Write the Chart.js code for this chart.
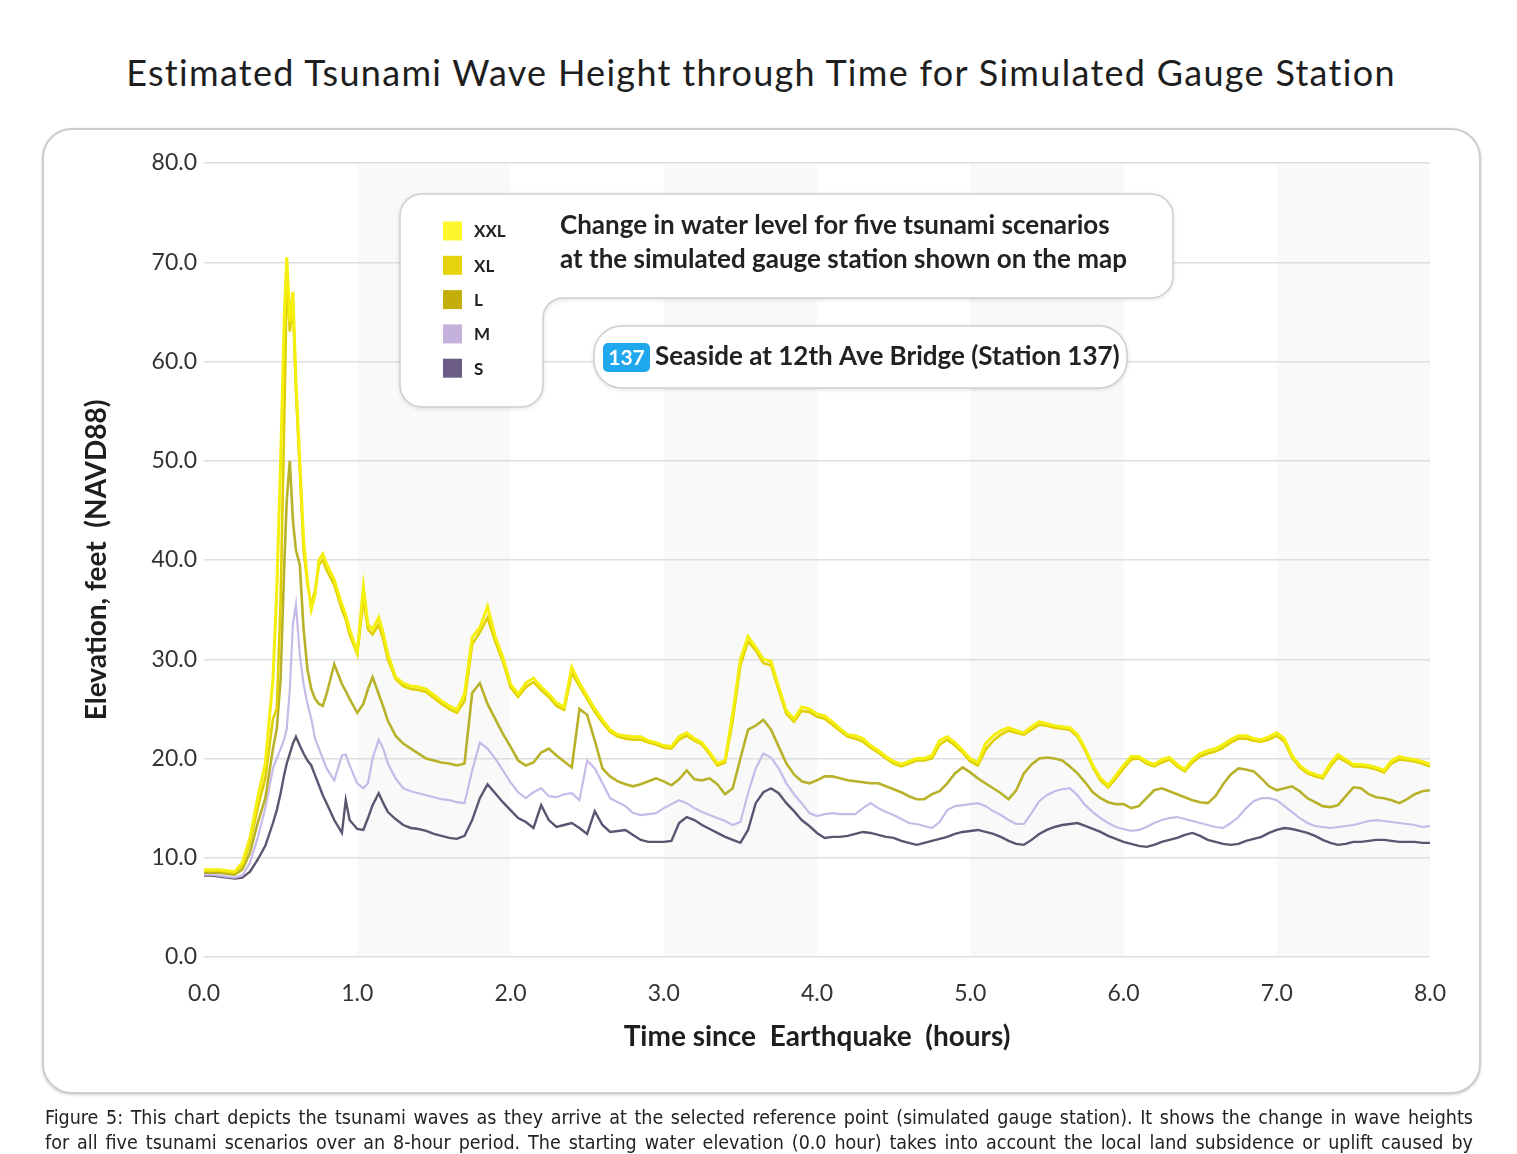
<!DOCTYPE html>
<html><head><meta charset="utf-8">
<script src="https://cdn.jsdelivr.net/npm/chart.js@4.4.1/dist/chart.umd.min.js"></script>
<style>
html,body{margin:0;padding:0;background:#fff;}
body{width:1517px;height:1154px;position:relative;overflow:hidden;}
#title{position:absolute;left:0;top:50px;width:1522px;text-align:center;font-family:Lato,"Open Sans",sans-serif;font-size:36px;letter-spacing:1.3px;color:#1e1e1e;white-space:nowrap;}
#box{position:absolute;left:42px;top:128px;width:1435px;height:962px;border:2px solid #cdcdcd;border-radius:30px;box-shadow:0 1px 3px rgba(0,0,0,0.18);background:#fff;}
#wrap{position:absolute;left:0;top:0;width:1517px;height:1154px;}
#caption{position:absolute;left:45px;top:1105px;width:1428px;font-family:"Liberation Sans Narrow","DejaVu Sans Condensed",sans-serif;font-size:19.5px;color:#222;line-height:25px;}
#caption div{text-align:justify;text-align-last:justify;}
</style></head>
<body>
<div id="title">Estimated Tsunami Wave Height through Time for Simulated Gauge Station</div>
<div id="box"></div>
<div id="wrap"><canvas id="c"></canvas></div>
<div id="caption">
<div>Figure 5: This chart depicts the tsunami waves as they arrive at the selected reference point (simulated gauge station). It shows the change in wave heights</div>
<div>for all five tsunami scenarios over an 8-hour period. The starting water elevation (0.0 hour) takes into account the local land subsidence or uplift caused by</div>
</div>
<script>
// time since earthquake (hours)
const times = [0,0.05,0.1,0.15,0.2,0.25,0.3,0.35,0.4,0.45,
0.475,0.5,0.525,0.54,0.56,0.58,0.6,0.625,0.65,0.675,
0.7,0.725,0.75,0.775,0.8,0.85,0.9,0.925,0.95,1.0,
1.04,1.07,1.1,1.14,1.17,1.2,1.25,
1.3,1.35,1.4,1.45,1.5,1.55,1.6,1.65,1.7,1.75,
1.8,1.85,1.9,1.95,2.0,2.05,2.1,2.15,2.2,2.25,
2.3,2.35,2.4,2.45,2.5,2.55,2.6,2.65,2.7,2.75,
2.8,2.85,2.9,2.95,3.0,3.05,3.1,3.15,3.2,3.25,
3.3,3.35,3.4,3.45,3.5,3.55,3.6,3.65,3.7,3.75,
3.8,3.85,3.9,3.95,4.0,
4.05,4.1,4.15,4.2,4.25,4.3,4.35,4.4,4.45,4.5,
4.55,4.6,4.65,4.7,4.75,4.8,4.85,4.9,4.95,5.0,
5.05,5.1,5.15,5.2,5.25,5.3,5.35,5.4,5.45,5.5,
5.55,5.6,5.65,5.7,5.75,5.8,5.85,5.9,5.95,6.0,
6.05,6.1,6.15,6.2,6.25,6.3,6.35,6.4,6.45,6.5,
6.55,6.6,6.65,6.7,6.75,6.8,6.85,6.9,6.95,7.0,
7.05,7.1,7.15,7.2,7.25,7.3,7.35,7.4,7.45,7.5,
7.55,7.6,7.65,7.7,7.75,7.8,7.85,7.9,7.95,8.0];

// elevation, feet (NAVD88)
const xxl = [8.8,8.8,8.8,8.7,8.6,9.5,12.0,16.0,19.5,28.0,
37.0,50.0,65.0,70.5,64.0,67.0,58.0,50.0,42.0,38.0,
35.0,36.5,40.0,40.6,39.6,38.0,35.5,34.5,33.0,30.7,
37.3,33.5,33.0,34.2,32.6,30.5,28.2,
27.6,27.3,27.2,27.0,26.4,25.8,25.3,24.9,26.5,32.2,
33.2,35.3,32.3,30.2,27.5,26.5,27.6,28.1,27.2,26.5,
25.6,25.2,29.2,27.6,26.3,25.0,23.9,22.9,22.4,22.3,
22.2,22.2,21.8,21.6,21.3,21.2,22.2,22.6,22.0,21.6,
20.6,19.5,19.8,24.5,30.0,32.3,31.2,30.0,29.8,27.2,
24.8,24.0,25.2,25.0,24.5,
24.3,23.7,23.0,22.4,22.3,22.0,21.3,20.8,20.2,19.7,
19.4,19.7,20.0,20.0,20.3,21.8,22.2,21.6,20.8,20.0,
19.6,21.5,22.3,22.8,23.1,22.8,22.6,23.2,23.7,23.5,
23.3,23.2,23.1,22.4,21.0,19.3,18.0,17.3,18.3,19.3,
20.2,20.2,19.7,19.4,19.9,20.1,19.4,18.9,19.9,20.5,
20.8,21.0,21.4,21.9,22.3,22.3,22.0,21.9,22.2,22.6,
22.0,20.3,19.3,18.7,18.4,18.2,19.5,20.4,19.9,19.4,
19.4,19.3,19.1,18.8,19.8,20.2,20.0,19.9,19.7,19.4];

const xl = [8.7,8.7,8.7,8.6,8.5,9.2,11.5,15.0,18.0,24.0,
25.0,36.0,55.0,68.5,63.0,66.0,57.0,49.0,41.0,37.5,
35.5,37.0,39.5,40.0,39.0,37.5,35.0,34.0,32.5,30.5,
36.0,33.0,32.5,33.5,32.0,30.0,28.0,
27.3,27.0,26.9,26.7,26.1,25.5,25.0,24.6,25.8,31.5,
32.7,34.2,31.8,29.8,27.2,26.2,27.2,27.7,26.9,26.2,
25.3,24.9,28.6,27.3,26.0,24.7,23.6,22.7,22.2,22.0,
21.9,21.9,21.6,21.4,21.1,21.0,21.9,22.3,21.8,21.4,
20.4,19.3,19.6,23.8,29.4,31.8,30.9,29.6,29.4,26.9,
24.5,23.7,24.8,24.7,24.2,
24.0,23.4,22.8,22.2,22.0,21.7,21.1,20.6,20.0,19.5,
19.2,19.5,19.8,19.8,20.0,21.4,21.9,21.3,20.6,19.7,
19.3,20.9,21.8,22.4,22.8,22.6,22.4,22.9,23.4,23.3,
23.1,23.0,22.9,22.2,20.8,19.1,17.8,17.1,18.0,19.0,
19.9,20.0,19.5,19.2,19.6,19.9,19.2,18.7,19.6,20.2,
20.5,20.7,21.1,21.6,22.0,22.0,21.8,21.7,21.9,22.3,
21.7,20.1,19.1,18.5,18.2,18.0,19.2,20.1,19.7,19.2,
19.2,19.1,18.9,18.6,19.5,19.9,19.8,19.7,19.5,19.2];

const l = [8.5,8.5,8.5,8.4,8.3,8.8,10.5,13.5,16.0,21.0,
23.0,28.0,40.0,46.0,50.0,44.0,41.0,39.5,33.0,29.0,
27.0,26.0,25.5,25.3,26.5,29.5,27.5,26.8,26.0,24.6,
25.5,27.0,28.2,26.5,25.2,23.8,22.3,
21.5,21.0,20.5,20.0,19.8,19.6,19.5,19.3,19.5,26.6,
27.6,25.5,24.0,22.5,21.2,19.8,19.3,19.6,20.6,21.0,
20.3,19.7,19.1,25.0,24.4,21.8,19.0,18.2,17.7,17.4,
17.2,17.4,17.7,18.0,17.7,17.3,17.9,18.8,17.9,17.8,
18.0,17.4,16.4,17.0,20.0,22.9,23.3,23.9,22.9,21.2,
19.5,18.4,17.7,17.5,17.8,
18.2,18.2,18.0,17.8,17.7,17.6,17.5,17.5,17.2,16.9,
16.6,16.2,15.9,15.9,16.4,16.7,17.5,18.5,19.1,18.6,
18.0,17.5,17.0,16.5,15.9,16.8,18.5,19.4,20.0,20.1,
20.0,19.8,19.2,18.5,17.6,16.6,16.0,15.6,15.4,15.4,
15.0,15.2,16.0,16.8,17.0,16.7,16.4,16.1,15.8,15.6,
15.5,16.2,17.4,18.4,19.0,18.9,18.7,18.0,17.2,16.8,
17.0,17.2,16.7,16.0,15.6,15.2,15.1,15.3,16.2,17.1,
17.0,16.4,16.1,16.0,15.8,15.5,15.9,16.4,16.7,16.8];

const m = [8.3,8.3,8.2,8.1,8.0,8.2,9.5,12.0,15.0,19.0,
20.0,21.0,22.0,23.0,27.0,33.5,35.5,30.5,27.5,25.5,
24.0,22.0,21.0,20.0,19.0,17.8,20.3,20.4,19.3,17.5,
17.0,17.5,20.0,21.9,21.0,19.5,18.0,
17.0,16.7,16.5,16.3,16.1,15.9,15.8,15.6,15.5,18.8,
21.6,21.0,20.0,18.8,17.6,16.6,16.0,16.6,17.0,16.2,
16.1,16.4,16.5,15.8,19.8,19.0,17.5,16.0,15.6,15.2,
14.5,14.3,14.4,14.5,15.0,15.4,15.8,15.5,15.0,14.6,
14.3,14.0,13.7,13.3,13.6,16.5,19.0,20.5,20.1,19.0,
17.5,16.4,15.5,14.5,14.2,
14.4,14.5,14.4,14.4,14.4,15.0,15.5,15.0,14.6,14.3,
13.9,13.5,13.4,13.2,13.0,13.6,14.8,15.2,15.3,15.4,
15.5,15.2,14.7,14.3,13.8,13.4,13.4,14.5,15.7,16.3,
16.7,16.9,17.0,16.3,15.3,14.6,14.0,13.5,13.1,12.9,
12.7,12.8,13.1,13.5,13.8,14.0,14.1,13.9,13.7,13.5,
13.3,13.1,13.0,13.5,14.1,15.0,15.7,16.0,16.0,15.8,
15.2,14.6,14.0,13.5,13.2,13.1,13.0,13.1,13.2,13.3,
13.5,13.7,13.8,13.7,13.6,13.5,13.4,13.3,13.1,13.2];

const s = [8.2,8.2,8.1,8.0,7.9,8.0,8.6,9.8,11.2,13.5,
14.8,16.5,18.5,19.5,20.5,21.5,22.2,21.3,20.5,19.8,
19.3,18.3,17.3,16.3,15.5,13.8,12.5,15.8,13.8,12.9,
12.8,14.0,15.3,16.5,15.5,14.6,13.9,
13.3,13.0,12.9,12.7,12.4,12.2,12.0,11.9,12.2,13.8,
16.0,17.4,16.5,15.6,14.8,14.0,13.6,13.0,15.3,13.8,
13.1,13.3,13.5,13.0,12.4,14.7,13.3,12.6,12.7,12.8,
12.3,11.8,11.6,11.6,11.6,11.7,13.5,14.1,13.8,13.3,
12.9,12.5,12.1,11.8,11.5,12.8,15.5,16.6,17.0,16.5,
15.5,14.7,13.8,13.2,12.5,
12.0,12.1,12.1,12.2,12.4,12.6,12.5,12.3,12.1,12.0,
11.7,11.5,11.3,11.5,11.7,11.9,12.1,12.4,12.6,12.7,
12.8,12.6,12.4,12.1,11.7,11.4,11.3,11.8,12.4,12.8,
13.1,13.3,13.4,13.5,13.2,12.9,12.6,12.2,11.9,11.6,
11.4,11.2,11.1,11.3,11.6,11.8,12.0,12.3,12.5,12.2,
11.8,11.6,11.4,11.3,11.4,11.7,11.9,12.1,12.5,12.8,
13.0,12.9,12.7,12.5,12.2,11.8,11.5,11.3,11.4,11.6,
11.6,11.7,11.8,11.8,11.7,11.6,11.6,11.6,11.5,11.5];

const seriesNames = ['XXL','XL','L','M','S'];
const seriesValues = [xxl, xl, l, m, s];
const lineColors = ['#f4ef0c','#e0d000','#b8b22a','#c8bae8','#5c5470'];
const legendColors = ['#fdf82e','#e6d30c','#c3ae0b','#c4b2dc','#6b5c86'];
const lineWidths = [3,2.6,2.6,2.2,2.4];

const xTickValues = [0,1,2,3,4,5,6,7,8];
const xTickLabels = ['0.0','1.0','2.0','3.0','4.0','5.0','6.0','7.0','8.0'];
const yTickValues = [0,10,20,30,40,50,60,70,80];
const yTickLabels = ['0.0','10.0','20.0','30.0','40.0','50.0','60.0','70.0','80.0'];
const shadedHours = [[1,2],[3,4],[5,6],[7,8]];

const panelTitle = ['Change in water level for five tsunami scenarios','at the simulated gauge station shown on the map'];
const stationId = '137';
const stationName = 'Seaside at 12th Ave Bridge (Station 137)';

const FONT = 'Lato, "Open Sans", sans-serif';

const bandPlugin = {
  id: 'bands',
  beforeDraw(chart) {
    const {ctx, chartArea: a, scales: {x}} = chart;
    ctx.save();
    ctx.fillStyle = '#f9f9fa';
    shadedHours.forEach(([h0, h1]) => {
      const p0 = x.getPixelForValue(h0), p1 = x.getPixelForValue(h1);
      ctx.fillRect(p0, a.top, p1 - p0, a.bottom - a.top);
    });
    ctx.restore();
  }
};

const panelPlugin = {
  id: 'panel',
  afterDatasetsDraw(chart) {
    const ctx = chart.ctx;
    ctx.save();
    // L-shaped legend / title panel
    const x0 = 400, y0 = 194, x1 = 1173, y1 = 298, x2 = 543, y2 = 407, r = 22, ri = 20;
    ctx.beginPath();
    ctx.moveTo(x0 + r, y0);
    ctx.arcTo(x1, y0, x1, y1, r);
    ctx.arcTo(x1, y1, x2, y1, r);
    ctx.arcTo(x2, y1, x2, y2, ri);
    ctx.arcTo(x2, y2, x0, y2, r);
    ctx.arcTo(x0, y2, x0, y0, r);
    ctx.arcTo(x0, y0, x1, y0, r);
    ctx.closePath();
    ctx.shadowColor = 'rgba(0,0,0,0.16)';
    ctx.shadowBlur = 5;
    ctx.shadowOffsetY = 1;
    ctx.fillStyle = '#fff';
    ctx.fill();
    ctx.shadowColor = 'transparent';
    ctx.strokeStyle = '#cfcfcf';
    ctx.lineWidth = 1.5;
    ctx.stroke();

    // legend entries
    ctx.textBaseline = 'middle';
    ctx.textAlign = 'left';
    seriesNames.forEach((name, i) => {
      const cy = 231 + i * 34.3;
      ctx.fillStyle = legendColors[i];
      ctx.fillRect(443, cy - 9.5, 19, 19);
      ctx.fillStyle = '#222';
      ctx.font = 'bold 17px ' + FONT;
      ctx.fillText(name, 474, cy + 1);
    });

    // panel title
    ctx.fillStyle = '#222';
    ctx.font = 'bold 26px ' + FONT;
    ctx.fillText(panelTitle[0], 560, 226);
    ctx.fillText(panelTitle[1], 560, 260);

    // station pill
    ctx.beginPath();
    ctx.roundRect(594, 326, 533, 62, 28);
    ctx.shadowColor = 'rgba(0,0,0,0.16)';
    ctx.shadowBlur = 5;
    ctx.shadowOffsetY = 1;
    ctx.fillStyle = '#fff';
    ctx.fill();
    ctx.shadowColor = 'transparent';
    ctx.strokeStyle = '#cfcfcf';
    ctx.lineWidth = 1.5;
    ctx.stroke();

    // station badge
    ctx.beginPath();
    ctx.roundRect(603, 343, 47, 29, 5);
    ctx.fillStyle = '#1fa8ee';
    ctx.fill();
    ctx.fillStyle = '#fff';
    ctx.textAlign = 'center';
    ctx.font = 'bold 21px "Liberation Sans Narrow", ' + FONT;
    ctx.fillText(stationId, 626.5, 358);
    ctx.textAlign = 'left';
    ctx.fillStyle = '#222';
    ctx.font = 'bold 26px ' + FONT;
    ctx.fillText(stationName, 655, 357);
    ctx.restore();
  }
};

const datasets = seriesNames.map((name, i) => ({
  label: name,
  data: times.map((t, k) => ({x: t, y: seriesValues[i][k]})),
  borderColor: lineColors[i],
  backgroundColor: lineColors[i],
  borderWidth: lineWidths[i],
  pointRadius: 0,
  tension: 0,
  fill: false
}));

new Chart(document.getElementById('c'), {
  type: 'line',
  data: {datasets},
  options: {
    responsive: true,
    maintainAspectRatio: false,
    animation: false,
    layout: {padding: {left: 80, top: 163, right: 87, bottom: 100}},
    plugins: {legend: {display: false}, tooltip: {enabled: false}, title: {display: false}},
    scales: {
      x: {
        type: 'linear', min: 0, max: 8,
        afterFit(sc) { sc.height = 97; },
        afterBuildTicks(sc) { sc.ticks = xTickValues.map(v => ({value: v})); },
        grid: {display: false, drawTicks: false},
        border: {display: false},
        ticks: {
          padding: 23, color: '#333', maxRotation: 0, autoSkip: false,
          font: {family: FONT, size: 23},
          callback: (v, i) => xTickLabels[i]
        },
        title: {
          display: true, text: 'Time since  Earthquake  (hours)', color: '#1e1e1e',
          font: {family: FONT, size: 28, weight: 'bold'}, padding: {top: 0, bottom: 0}
        }
      },
      y: {
        type: 'linear', min: 0, max: 80,
        afterFit(sc) { sc.width = 124; },
        afterBuildTicks(sc) { sc.ticks = yTickValues.map(v => ({value: v})); },
        grid: {color: '#dedede', lineWidth: 1.5, drawTicks: false},
        border: {display: false},
        ticks: {
          padding: 7, color: '#333',
          font: {family: FONT, size: 23},
          callback: (v, i) => yTickLabels[i]
        },
        title: {
          display: true, text: 'Elevation, feet  (NAVD88)', color: '#1e1e1e',
          font: {family: FONT, size: 28, weight: 'bold'}, padding: {top: 0, bottom: 0}
        }
      }
    }
  },
  plugins: [bandPlugin, panelPlugin]
});
</script>
</body></html>
